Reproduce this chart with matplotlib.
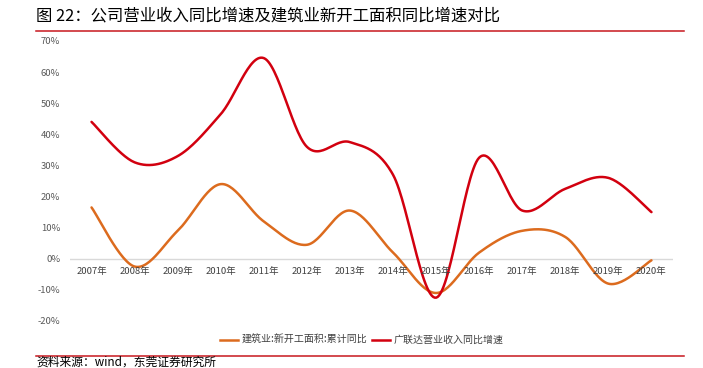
import numpy as np
import matplotlib
matplotlib.use("Agg")
import matplotlib.pyplot as plt
from matplotlib.lines import Line2D

plt.rcParams['font.family'] = ['Noto Sans CJK SC', 'DejaVu Sans']

years = ["2007年", "2008年", "2009年", "2010年", "2011年", "2012年", "2013年",
         "2014年", "2015年", "2016年", "2017年", "2018年", "2019年", "2020年"]
construction = [16.5, -2.5, 9.0, 24.0, 12.0, 4.5, 15.5, 2.0, -11.0, 2.0, 9.0, 7.0, -8.0, -0.5]
revenue = [44.0, 31.0, 33.0, 46.5, 64.5, 36.0, 37.5, 27.0, -12.5, 32.5, 15.5, 22.5, 26.0, 15.0]
yticks = [-20, -10, 0, 10, 20, 30, 40, 50, 60, 70]

name_c = "建筑业:新开工面积:累计同比"
name_r = "广联达营业收入同比增速"
col_c = "#DC6B1E"
col_r = "#D2000F"


def smooth(x, y, n=30):
    """Excel-style smoothed line (Catmull-Rom via cubic Bezier)."""
    x = np.asarray(x, float)
    y = np.asarray(y, float)
    px = np.concatenate([[x[0]], x, [x[-1]]])
    py = np.concatenate([[y[0]], y, [y[-1]]])
    xs, ys = [], []
    t = np.linspace(0, 1, n)
    for i in range(1, len(px) - 2):
        p0 = np.array([px[i - 1], py[i - 1]])
        p1 = np.array([px[i], py[i]])
        p2 = np.array([px[i + 1], py[i + 1]])
        p3 = np.array([px[i + 2], py[i + 2]])
        c1 = p1 + (p2 - p0) / 6
        c2 = p2 - (p3 - p1) / 6
        b = ((1 - t) ** 3)[:, None] * p1 + (3 * (1 - t) ** 2 * t)[:, None] * c1 \
            + (3 * (1 - t) * t ** 2)[:, None] * c2 + (t ** 3)[:, None] * p2
        xs.append(b[:, 0])
        ys.append(b[:, 1])
    return np.concatenate(xs), np.concatenate(ys)


fig = plt.figure(figsize=(7.03, 3.68), dpi=100)
W, H = 703, 368
ax = fig.add_axes([70 / W, (H - 321) / H, (673 - 70) / W, (321 - 41) / H])

x = np.arange(len(years))
sx, sy = smooth(x, construction)
ax.plot(sx, sy, color=col_c, lw=1.8, solid_capstyle='round')
sx, sy = smooth(x, revenue)
ax.plot(sx, sy, color=col_r, lw=1.8, solid_capstyle='round')

ax.set_xlim(-0.5, len(years) - 0.5)
ax.set_ylim(-20, 70)
ax.axhline(0, color='#D9D9D9', lw=1.0, zorder=0)
for s in ax.spines.values():
    s.set_visible(False)
ax.set_xticks([])
ax.set_yticks(yticks)
ax.set_yticklabels([f"{v}%" for v in yticks], fontsize=6.8, color='#595959')
ax.tick_params(axis='y', length=0, pad=7)

for i, lab in enumerate(years):
    ax.text(i, -2.8, lab, ha='center', va='top', fontsize=6.8, color='#404040')

# title and rules
fig.text(36 / W, 1 - 16 / H, "图 22：公司营业收入同比增速及建筑业新开工面积同比增速对比",
         ha='left', va='center', fontsize=11.8, color='#000000')
fig.add_artist(Line2D([36 / W, 684 / W], [1 - 30.5 / H] * 2, color='#C8171E', lw=1.1))
fig.add_artist(Line2D([36 / W, 684 / W], [1 - 356 / H] * 2, color='#C8171E', lw=1.1))

# legend
handles = [Line2D([], [], color=col_c, lw=1.8), Line2D([], [], color=col_r, lw=1.8)]
fig.legend(handles, [name_c, name_r], loc='center', bbox_to_anchor=(362 / W, 1 - 340 / H),
           ncol=2, frameon=False, fontsize=7.2, handlelength=1.8, handletextpad=0.4,
           columnspacing=0.4, labelcolor='#404040')

fig.text(36 / W, 1 - 362.5 / H, "资料来源：wind，东莞证券研究所", ha='left', va='center',
         fontsize=8.5, color='#000000')

fig.savefig("out.png", dpi=100)
